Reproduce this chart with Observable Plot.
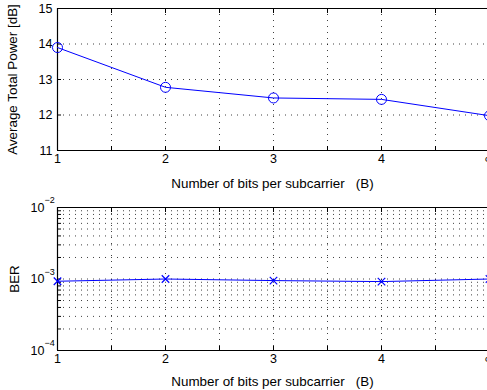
<!DOCTYPE html>
<html><head>
<meta charset="utf-8">
<script src="https://cdn.jsdelivr.net/npm/d3@7"></script>
<script src="https://cdn.jsdelivr.net/npm/@observablehq/plot@0.6"></script>
<style>
html,body{margin:0;padding:0;background:#fff;overflow:hidden;width:487px;height:390px}
svg{display:block}
</style></head><body><div id="chart"></div>
<script>
// Data
const xPos = [1, 2, 3, 4, 5];
const xTickLabels = ["1", "2", "3", "4", "∞"];
const power = [13.9, 12.78, 12.48, 12.44, 11.98];
const ber = [0.93e-3, 1.0e-3, 0.95e-3, 0.92e-3, 1.0e-3];
const powerTicks = [11, 12, 13, 14, 15];
const berDecades = [1e-4, 1e-3, 1e-2];
const berExponents = ["−4", "−3", "−2"];
const xLabel = "Number of bits per subcarrier   (B)";
const yLabelTop = "Average Total Power [dB]";
const yLabelBottom = "BER";

const gridX = d3.range(1, 5.001, 0.5);
const innerGridX = gridX.filter(v => v > 1 && v < 5);
const berMinor = [];
for (let e = -4; e < -2; e++) for (let k = 1; k <= 9; k++) berMinor.push(k * Math.pow(10, e));
const berGrid = berMinor.filter(v => v > 1e-4 * 1.01);

const font = "'Liberation Sans', Arial, Helvetica, sans-serif";
const dot = {stroke: "#000", strokeOpacity: 0.75, strokeWidth: 1, strokeDasharray: "1,5"};
const rowsP = xPos.map((x, i) => ({x, y: power[i]}));
const rowsB = xPos.map((x, i) => ({x, y: ber[i]}));
const TICK = 12.5, LAB = 13.4;

function common(marginTop, marginBottom) {
  return {
    width: 487, height: 195, marginLeft: 57, marginRight: 0, marginTop, marginBottom,
    style: {fontFamily: font, fontSize: TICK + "px", background: "white", color: "#000", overflow: "visible"},
  };
}

const xAxes = [
  Plot.axisX(xPos, {anchor: "bottom", tickSize: 0, tickPadding: 4, tickFormat: d => xTickLabels[xPos.indexOf(d)], label: null, fontSize: TICK}),
  Plot.axisX(gridX, {anchor: "bottom", tickSize: -4, tickFormat: () => "", label: null}),
  Plot.axisX(gridX, {anchor: "top", tickSize: -4, tickFormat: () => "", label: null}),
];

const topPlot = Plot.plot({
  ...common(8, 45),
  x: {domain: [1, 5], range: [57, 489]},
  y: {domain: [11, 15]},
  marks: [
    Plot.ruleX(innerGridX, dot),
    Plot.ruleY(powerTicks.filter(v => v > 11 && v < 15), dot),
    ...xAxes,
    Plot.axisY(powerTicks, {anchor: "left", tickSize: 0, tickPadding: 5, label: null, fontSize: TICK}),
    Plot.axisY(powerTicks, {anchor: "left", tickSize: -4, tickFormat: () => "", label: null}),
    Plot.ruleY([11, 15], {stroke: "#000", strokeWidth: 1.2}),
    Plot.ruleX([1], {stroke: "#000", strokeWidth: 1.2}),
    Plot.line(rowsP, {x: "x", y: "y", stroke: "#0000ff", strokeWidth: 1}),
    Plot.dot(rowsP, {x: "x", y: "y", r: 5, stroke: "#0000ff", fill: "none", strokeWidth: 1}),
    Plot.text([xLabel], {frameAnchor: "bottom", textAnchor: "middle", dy: 33, lineAnchor: "middle", fontSize: LAB}),
    Plot.text([yLabelTop], {frameAnchor: "left", textAnchor: "middle", lineAnchor: "middle", dx: -45, rotate: -90, fontSize: LAB}),
  ]
});

const bottomPlot = Plot.plot({
  ...common(12, 40),
  x: {domain: [1, 5], range: [57, 489]},
  y: {type: "log", domain: [1e-4, 1e-2]},
  marks: [
    Plot.ruleX(innerGridX, dot),
    Plot.ruleY(berGrid, dot),
    ...xAxes,
    Plot.axisY(berDecades, {anchor: "left", tickSize: 0, tickPadding: 13, tickFormat: () => "10", label: null, fontSize: TICK}),
    Plot.axisY(berDecades, {anchor: "left", tickSize: 0, tickPadding: 13, textAnchor: "start", dy: -7, tickFormat: d => berExponents[berDecades.indexOf(d)], label: null, fontSize: 9}),
    Plot.axisY(berMinor.concat([1e-2]), {anchor: "left", tickSize: -4, tickFormat: () => "", label: null}),
    Plot.ruleY([1e-4, 1e-2], {stroke: "#000", strokeWidth: 1.2}),
    Plot.ruleX([1], {stroke: "#000", strokeWidth: 1.2}),
    Plot.line(rowsB, {x: "x", y: "y", stroke: "#0000ff", strokeWidth: 1}),
    Plot.dot(rowsB, {x: "x", y: "y", r: 3.5, symbol: "times", stroke: "#0000ff", strokeWidth: 1.2}),
    Plot.text([xLabel], {frameAnchor: "bottom", textAnchor: "middle", dy: 31, lineAnchor: "middle", fontSize: LAB}),
    Plot.text([yLabelBottom], {frameAnchor: "left", textAnchor: "middle", lineAnchor: "middle", dx: -43, rotate: -90, fontSize: LAB}),
  ]
});

const c = document.getElementById("chart");
c.appendChild(topPlot);
c.appendChild(bottomPlot);
</script>
</body></html>
